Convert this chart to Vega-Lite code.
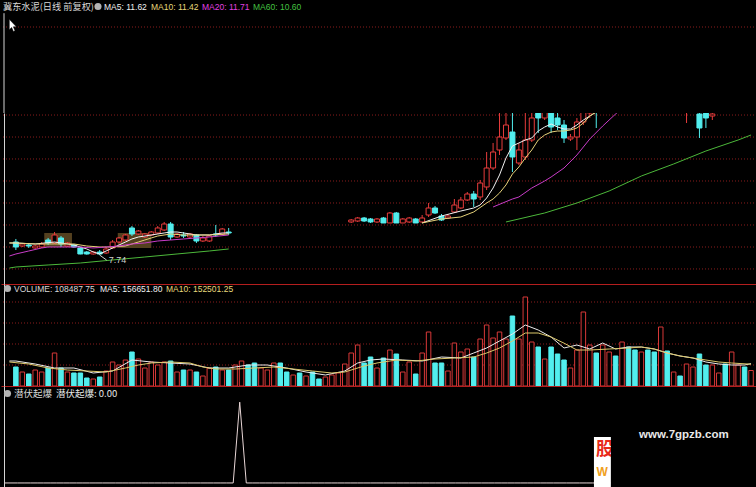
{
  "$schema": "https://vega.github.io/schema/vega-lite/v6.json",
  "background": "#000000",
  "padding": 0,
  "bounds": "flush",
  "spacing": 0,
  "config": {"view": {"stroke": null}, "text": {"font": "Liberation Sans"}},
  "resolve": {"scale": {"x": "independent", "y": "independent", "color": "independent"}},
  "datasets": {
    "bars": [
      {"i": -1, "q": 0},
      {"i": 0, "dir": "d", "vol": 133000, "o": 8.052, "h": 8.124, "l": 7.862, "c": 7.933, "q": 0},
      {"i": 1, "dir": "u", "vol": 98000, "o": 7.957, "h": 8.029, "l": 7.933, "c": 8.005, "q": 0},
      {"i": 2, "dir": "d", "vol": 84000, "o": 7.981, "h": 8.029, "l": 7.91, "c": 7.957, "q": 0},
      {"i": 3, "dir": "u", "vol": 112000, "o": 7.91, "h": 7.981, "l": 7.886, "c": 7.957, "q": 0},
      {"i": 4, "dir": "u", "vol": 98000, "o": 7.933, "h": 8.052, "l": 7.91, "c": 8.005, "q": 0},
      {"i": 5, "dir": "d", "vol": 126000, "o": 8.1, "h": 8.148, "l": 7.981, "c": 8.029, "q": 0},
      {"i": 6, "dir": "u", "vol": 231000, "o": 8.029, "h": 8.29, "l": 8.005, "c": 8.219, "q": 0},
      {"i": 7, "dir": "d", "vol": 126000, "o": 8.148, "h": 8.195, "l": 7.933, "c": 8.005, "q": 0},
      {"i": 8, "dir": "u", "vol": 98000, "o": 7.957, "h": 8.052, "l": 7.933, "c": 8.029, "q": 0},
      {"i": 9, "dir": "d", "vol": 91000, "o": 7.981, "h": 8.005, "l": 7.91, "c": 7.933, "q": 0},
      {"i": 10, "dir": "d", "vol": 91000, "o": 7.91, "h": 7.933, "l": 7.76, "c": 7.767, "q": 0},
      {"i": 11, "dir": "d", "vol": 56000, "o": 7.814, "h": 7.838, "l": 7.75, "c": 7.767, "q": 0},
      {"i": 12, "dir": "u", "vol": 49000, "o": 7.767, "h": 7.838, "l": 7.75, "c": 7.814, "q": 0},
      {"i": 13, "dir": "d", "vol": 63000, "o": 7.814, "h": 7.862, "l": 7.74, "c": 7.767, "q": 0},
      {"i": 14, "dir": "u", "vol": 105000, "o": 7.79, "h": 7.933, "l": 7.767, "c": 7.886, "q": 0},
      {"i": 15, "dir": "u", "vol": 168000, "o": 7.91, "h": 8.1, "l": 7.886, "c": 8.052, "q": 0},
      {"i": 16, "dir": "u", "vol": 147000, "o": 8.052, "h": 8.171, "l": 8.029, "c": 8.148, "q": 0},
      {"i": 17, "dir": "u", "vol": 182000, "o": 8.1, "h": 8.243, "l": 8.076, "c": 8.219, "q": 0},
      {"i": 18, "dir": "d", "vol": 238000, "o": 8.386, "h": 8.433, "l": 8.195, "c": 8.243, "q": 0},
      {"i": 19, "dir": "u", "vol": 189000, "o": 8.243, "h": 8.338, "l": 8.219, "c": 8.314, "q": 0},
      {"i": 20, "dir": "u", "vol": 126000, "o": 8.171, "h": 8.267, "l": 8.148, "c": 8.243, "q": 0},
      {"i": 21, "dir": "u", "vol": 168000, "o": 8.219, "h": 8.314, "l": 8.195, "c": 8.29, "q": 0},
      {"i": 22, "dir": "u", "vol": 147000, "o": 8.267, "h": 8.433, "l": 8.243, "c": 8.386, "q": 0},
      {"i": 23, "dir": "u", "vol": 168000, "o": 8.338, "h": 8.529, "l": 8.314, "c": 8.481, "q": 0},
      {"i": 24, "dir": "d", "vol": 175000, "o": 8.481, "h": 8.529, "l": 8.1, "c": 8.171, "q": 0},
      {"i": 25, "dir": "u", "vol": 98000, "o": 8.171, "h": 8.267, "l": 8.148, "c": 8.243, "q": 0},
      {"i": 26, "dir": "d", "vol": 112000, "o": 8.219, "h": 8.29, "l": 8.148, "c": 8.195, "q": 0},
      {"i": 27, "dir": "u", "vol": 112000, "o": 8.171, "h": 8.267, "l": 8.148, "c": 8.243, "q": 0},
      {"i": 28, "dir": "d", "vol": 98000, "o": 8.219, "h": 8.243, "l": 8.029, "c": 8.076, "q": 0},
      {"i": 29, "dir": "u", "vol": 70000, "o": 8.076, "h": 8.195, "l": 8.052, "c": 8.148, "q": 0},
      {"i": 30, "dir": "u", "vol": 126000, "o": 8.076, "h": 8.219, "l": 8.052, "c": 8.195, "q": 0},
      {"i": 31, "dir": "d", "vol": 133000, "o": 8.243, "h": 8.457, "l": 8.171, "c": 8.219, "q": 0},
      {"i": 32, "dir": "u", "vol": 112000, "o": 8.243, "h": 8.386, "l": 8.219, "c": 8.362, "q": 0},
      {"i": 33, "dir": "d", "vol": 112000, "o": 8.29, "h": 8.386, "l": 8.219, "c": 8.267, "q": 0},
      {"i": 34, "dir": "u", "vol": 147000, "q": 0},
      {"i": 35, "dir": "u", "vol": 175000, "q": 1},
      {"i": 36, "dir": "d", "vol": 147000, "q": 0},
      {"i": 37, "dir": "d", "vol": 161000, "q": 0},
      {"i": 38, "dir": "u", "vol": 126000, "q": 0},
      {"i": 39, "dir": "u", "vol": 112000, "q": 0},
      {"i": 40, "dir": "u", "vol": 161000, "q": 0},
      {"i": 41, "dir": "d", "vol": 161000, "q": 0},
      {"i": 42, "dir": "d", "vol": 98000, "q": 0},
      {"i": 43, "dir": "u", "vol": 77000, "q": 0},
      {"i": 44, "dir": "d", "vol": 91000, "q": 0},
      {"i": 45, "dir": "u", "vol": 70000, "q": 0},
      {"i": 46, "dir": "d", "vol": 98000, "q": 0},
      {"i": 47, "dir": "d", "vol": 49000, "q": 0},
      {"i": 48, "dir": "u", "vol": 63000, "q": 0},
      {"i": 49, "dir": "u", "vol": 77000, "q": 0},
      {"i": 50, "dir": "u", "vol": 91000, "q": 0},
      {"i": 51, "dir": "u", "vol": 154000, "q": 0},
      {"i": 52, "dir": "u", "vol": 231000, "o": 8.529, "h": 8.6, "l": 8.505, "c": 8.576, "q": 0},
      {"i": 53, "dir": "u", "vol": 287000, "o": 8.552, "h": 8.648, "l": 8.529, "c": 8.624, "q": 0},
      {"i": 54, "dir": "d", "vol": 161000, "o": 8.624, "h": 8.648, "l": 8.529, "c": 8.552, "q": 0},
      {"i": 55, "dir": "d", "vol": 203000, "o": 8.6, "h": 8.624, "l": 8.505, "c": 8.529, "q": 0},
      {"i": 56, "dir": "u", "vol": 126000, "o": 8.529, "h": 8.624, "l": 8.505, "c": 8.6, "q": 0},
      {"i": 57, "dir": "d", "vol": 196000, "o": 8.624, "h": 8.648, "l": 8.505, "c": 8.505, "q": 0},
      {"i": 58, "dir": "u", "vol": 252000, "o": 8.505, "h": 8.767, "l": 8.505, "c": 8.743, "q": 0},
      {"i": 59, "dir": "d", "vol": 224000, "o": 8.743, "h": 8.767, "l": 8.505, "c": 8.505, "q": 0},
      {"i": 60, "dir": "u", "vol": 98000, "o": 8.505, "h": 8.624, "l": 8.505, "c": 8.6, "q": 0},
      {"i": 61, "dir": "u", "vol": 168000, "o": 8.529, "h": 8.648, "l": 8.505, "c": 8.624, "q": 0},
      {"i": 62, "dir": "d", "vol": 84000, "o": 8.6, "h": 8.624, "l": 8.505, "c": 8.505, "q": 0},
      {"i": 63, "dir": "u", "vol": 231000, "o": 8.529, "h": 8.695, "l": 8.505, "c": 8.624, "q": 0},
      {"i": 64, "dir": "u", "vol": 378000, "o": 8.695, "h": 8.981, "l": 8.648, "c": 8.862, "q": 0},
      {"i": 65, "dir": "d", "vol": 161000, "o": 8.862, "h": 8.91, "l": 8.719, "c": 8.743, "q": 0},
      {"i": 66, "dir": "d", "vol": 161000, "o": 8.671, "h": 8.719, "l": 8.552, "c": 8.576, "q": 0},
      {"i": 67, "dir": "u", "vol": 105000, "o": 8.624, "h": 8.719, "l": 8.6, "c": 8.671, "q": 0},
      {"i": 68, "dir": "u", "vol": 301000, "o": 8.767, "h": 9.076, "l": 8.743, "c": 8.933, "q": 0},
      {"i": 69, "dir": "u", "vol": 238000, "o": 8.862, "h": 9.124, "l": 8.838, "c": 9.052, "q": 0},
      {"i": 70, "dir": "u", "vol": 259000, "o": 9.052, "h": 9.243, "l": 9.029, "c": 9.195, "q": 0},
      {"i": 71, "dir": "d", "vol": 203000, "o": 9.195, "h": 9.267, "l": 8.886, "c": 9.076, "q": 0},
      {"i": 72, "dir": "u", "vol": 329000, "o": 9.124, "h": 9.529, "l": 9.052, "c": 9.457, "q": 0},
      {"i": 73, "dir": "u", "vol": 427000, "o": 9.362, "h": 10.195, "l": 9.29, "c": 9.814, "q": 0},
      {"i": 74, "dir": "u", "vol": 336000, "o": 9.814, "h": 10.41, "l": 9.767, "c": 10.195, "q": 0},
      {"i": 75, "dir": "u", "vol": 378000, "o": 10.243, "h": 11.243, "l": 10.124, "c": 10.552, "q": 0},
      {"i": 76, "dir": "u", "vol": 329000, "o": 10.529, "h": 11.243, "l": 10.481, "c": 10.838, "q": 0},
      {"i": 77, "dir": "d", "vol": 490000, "o": 10.671, "h": 11.243, "l": 9.719, "c": 10.076, "q": 0},
      {"i": 78, "dir": "u", "vol": 329000, "o": 9.933, "h": 10.41, "l": 9.886, "c": 10.243, "q": 0},
      {"i": 79, "dir": "u", "vol": 623000, "o": 10.076, "h": 11.243, "l": 10.005, "c": 10.481, "q": 0},
      {"i": 80, "dir": "u", "vol": 308000, "o": 10.481, "h": 11.243, "l": 10.433, "c": 11.005, "q": 0},
      {"i": 81, "dir": "d", "vol": 273000, "o": 11.195, "h": 11.314, "l": 10.648, "c": 11.005, "q": 0},
      {"i": 82, "dir": "u", "vol": 189000, "o": 11.005, "h": 11.314, "l": 10.957, "c": 11.195, "q": 0},
      {"i": 83, "dir": "d", "vol": 273000, "o": 11.195, "h": 11.314, "l": 10.648, "c": 10.79, "q": 0},
      {"i": 84, "dir": "d", "vol": 224000, "o": 11.005, "h": 11.195, "l": 10.719, "c": 10.838, "q": 0},
      {"i": 85, "dir": "d", "vol": 182000, "o": 10.838, "h": 10.957, "l": 10.41, "c": 10.529, "q": 0},
      {"i": 86, "dir": "u", "vol": 126000, "o": 10.505, "h": 10.624, "l": 10.457, "c": 10.552, "q": 0},
      {"i": 87, "dir": "u", "vol": 252000, "o": 10.552, "h": 11.005, "l": 10.243, "c": 10.91, "q": 0},
      {"i": 88, "dir": "u", "vol": 518000, "o": 10.91, "h": 11.314, "l": 10.838, "c": 11.195, "q": 0},
      {"i": 89, "dir": "u", "vol": 287000, "o": 11.124, "h": 11.433, "l": 11.005, "c": 11.314, "q": 0},
      {"i": 90, "dir": "d", "vol": 231000, "o": 11.314, "h": 11.433, "l": 10.767, "c": 11.148, "q": 0},
      {"i": 91, "dir": "u", "vol": 287000, "o": 11.195, "h": 11.552, "l": 11.148, "c": 11.433, "q": 0},
      {"i": 92, "dir": "u", "vol": 238000, "q": 0},
      {"i": 93, "dir": "d", "vol": 210000, "q": 0},
      {"i": 94, "dir": "u", "vol": 308000, "q": 0},
      {"i": 95, "dir": "d", "vol": 273000, "q": 0},
      {"i": 96, "dir": "d", "vol": 252000, "q": 0},
      {"i": 97, "dir": "u", "vol": 238000, "q": 0},
      {"i": 98, "dir": "d", "vol": 252000, "q": 0},
      {"i": 99, "dir": "d", "vol": 238000, "q": 0},
      {"i": 100, "dir": "u", "vol": 413000, "q": 0},
      {"i": 101, "dir": "d", "vol": 245000, "q": 0},
      {"i": 102, "dir": "u", "vol": 98000, "q": 0},
      {"i": 103, "dir": "d", "vol": 70000, "q": 0},
      {"i": 104, "dir": "u", "vol": 154000, "o": 11.314, "h": 11.552, "l": 10.886, "c": 11.433, "q": 0},
      {"i": 105, "dir": "u", "vol": 133000, "q": 0},
      {"i": 106, "dir": "d", "vol": 224000, "o": 11.1, "h": 11.195, "l": 10.529, "c": 10.767, "q": 0},
      {"i": 107, "dir": "d", "vol": 147000, "o": 11.195, "h": 11.243, "l": 10.767, "c": 11.005, "q": 0},
      {"i": 108, "dir": "u", "vol": 147000, "o": 11.052, "h": 11.195, "l": 10.957, "c": 11.1, "q": 0},
      {"i": 109, "dir": "u", "vol": 91000, "q": 0},
      {"i": 110, "dir": "d", "vol": 154000, "q": 0},
      {"i": 111, "dir": "u", "vol": 238000, "q": 0},
      {"i": 112, "dir": "u", "vol": 147000, "q": 0},
      {"i": 113, "dir": "d", "vol": 133000, "q": 0},
      {"i": 114, "dir": "u", "vol": 108487.75, "q": 0}
    ],
    "ma": [
      {"s": "MA5", "g": "a", "i": -1, "p": 8.029}, {"s": "MA5", "g": "a", "i": 0, "p": 8.029}, {"s": "MA5", "g": "a", "i": 3, "p": 8.005},
      {"s": "MA5", "g": "a", "i": 6, "p": 8.052}, {"s": "MA5", "g": "a", "i": 9, "p": 7.981}, {"s": "MA5", "g": "a", "i": 10, "p": 7.933},
      {"s": "MA5", "g": "a", "i": 11, "p": 7.886}, {"s": "MA5", "g": "a", "i": 12, "p": 7.814}, {"s": "MA5", "g": "a", "i": 13, "p": 7.767},
      {"s": "MA5", "g": "a", "i": 14, "p": 7.838}, {"s": "MA5", "g": "a", "i": 15, "p": 7.91}, {"s": "MA5", "g": "a", "i": 16, "p": 7.981},
      {"s": "MA5", "g": "a", "i": 17, "p": 8.052}, {"s": "MA5", "g": "a", "i": 18, "p": 8.124}, {"s": "MA5", "g": "a", "i": 19, "p": 8.171},
      {"s": "MA5", "g": "a", "i": 20, "p": 8.195}, {"s": "MA5", "g": "a", "i": 21, "p": 8.219}, {"s": "MA5", "g": "a", "i": 22, "p": 8.243},
      {"s": "MA5", "g": "a", "i": 23, "p": 8.267}, {"s": "MA5", "g": "a", "i": 24, "p": 8.29}, {"s": "MA5", "g": "a", "i": 25, "p": 8.29},
      {"s": "MA5", "g": "a", "i": 26, "p": 8.267}, {"s": "MA5", "g": "a", "i": 27, "p": 8.243}, {"s": "MA5", "g": "a", "i": 28, "p": 8.219},
      {"s": "MA5", "g": "a", "i": 30, "p": 8.219}, {"s": "MA5", "g": "a", "i": 31, "p": 8.243}, {"s": "MA5", "g": "a", "i": 32, "p": 8.267},
      {"s": "MA5", "g": "a", "i": 33, "p": 8.267},
      {"s": "MA5", "g": "b", "i": 63, "p": 8.505}, {"s": "MA5", "g": "b", "i": 66, "p": 8.671}, {"s": "MA5", "g": "b", "i": 69, "p": 8.79},
      {"s": "MA5", "g": "b", "i": 71, "p": 8.862}, {"s": "MA5", "g": "b", "i": 72, "p": 8.933}, {"s": "MA5", "g": "b", "i": 73, "p": 9.1},
      {"s": "MA5", "g": "b", "i": 74, "p": 9.338}, {"s": "MA5", "g": "b", "i": 75, "p": 9.648}, {"s": "MA5", "g": "b", "i": 76, "p": 10.052},
      {"s": "MA5", "g": "b", "i": 77, "p": 10.338}, {"s": "MA5", "g": "b", "i": 78, "p": 10.41}, {"s": "MA5", "g": "b", "i": 79, "p": 10.481},
      {"s": "MA5", "g": "b", "i": 80, "p": 10.529}, {"s": "MA5", "g": "b", "i": 81, "p": 10.695}, {"s": "MA5", "g": "b", "i": 82, "p": 10.79},
      {"s": "MA5", "g": "b", "i": 83, "p": 10.862}, {"s": "MA5", "g": "b", "i": 84, "p": 10.79}, {"s": "MA5", "g": "b", "i": 85, "p": 10.743},
      {"s": "MA5", "g": "b", "i": 86, "p": 10.743}, {"s": "MA5", "g": "b", "i": 87, "p": 10.838}, {"s": "MA5", "g": "b", "i": 88, "p": 10.957},
      {"s": "MA5", "g": "b", "i": 89, "p": 11.052}, {"s": "MA5", "g": "b", "i": 90, "p": 11.148}, {"s": "MA5", "g": "b", "i": 96, "p": 11.4},
      {"s": "MA5", "g": "b", "i": 102, "p": 11.55}, {"s": "MA5", "g": "b", "i": 108, "p": 11.68}, {"s": "MA5", "g": "b", "i": 114, "p": 11.62},
      {"s": "MA10", "g": "a", "i": -1, "p": 8.029}, {"s": "MA10", "g": "a", "i": 0, "p": 8.029}, {"s": "MA10", "g": "a", "i": 3, "p": 8.005},
      {"s": "MA10", "g": "a", "i": 6, "p": 8.005}, {"s": "MA10", "g": "a", "i": 9, "p": 8.005}, {"s": "MA10", "g": "a", "i": 11, "p": 7.957},
      {"s": "MA10", "g": "a", "i": 13, "p": 7.933}, {"s": "MA10", "g": "a", "i": 15, "p": 7.933}, {"s": "MA10", "g": "a", "i": 17, "p": 7.957},
      {"s": "MA10", "g": "a", "i": 18, "p": 8.005}, {"s": "MA10", "g": "a", "i": 19, "p": 8.052}, {"s": "MA10", "g": "a", "i": 20, "p": 8.1},
      {"s": "MA10", "g": "a", "i": 21, "p": 8.148}, {"s": "MA10", "g": "a", "i": 22, "p": 8.195}, {"s": "MA10", "g": "a", "i": 24, "p": 8.243},
      {"s": "MA10", "g": "a", "i": 26, "p": 8.219}, {"s": "MA10", "g": "a", "i": 28, "p": 8.219}, {"s": "MA10", "g": "a", "i": 30, "p": 8.219},
      {"s": "MA10", "g": "a", "i": 33, "p": 8.243},
      {"s": "MA10", "g": "b", "i": 63, "p": 8.505}, {"s": "MA10", "g": "b", "i": 66, "p": 8.6}, {"s": "MA10", "g": "b", "i": 69, "p": 8.648},
      {"s": "MA10", "g": "b", "i": 71, "p": 8.767}, {"s": "MA10", "g": "b", "i": 73, "p": 8.981}, {"s": "MA10", "g": "b", "i": 74, "p": 9.076},
      {"s": "MA10", "g": "b", "i": 75, "p": 9.219}, {"s": "MA10", "g": "b", "i": 76, "p": 9.41}, {"s": "MA10", "g": "b", "i": 77, "p": 9.671},
      {"s": "MA10", "g": "b", "i": 78, "p": 9.838}, {"s": "MA10", "g": "b", "i": 79, "p": 10.052}, {"s": "MA10", "g": "b", "i": 80, "p": 10.243},
      {"s": "MA10", "g": "b", "i": 81, "p": 10.481}, {"s": "MA10", "g": "b", "i": 82, "p": 10.6}, {"s": "MA10", "g": "b", "i": 83, "p": 10.671},
      {"s": "MA10", "g": "b", "i": 84, "p": 10.695}, {"s": "MA10", "g": "b", "i": 85, "p": 10.695}, {"s": "MA10", "g": "b", "i": 86, "p": 10.719},
      {"s": "MA10", "g": "b", "i": 87, "p": 10.767}, {"s": "MA10", "g": "b", "i": 88, "p": 10.886}, {"s": "MA10", "g": "b", "i": 89, "p": 11.052},
      {"s": "MA10", "g": "b", "i": 90, "p": 11.148}, {"s": "MA10", "g": "b", "i": 96, "p": 11.35}, {"s": "MA10", "g": "b", "i": 102, "p": 11.45},
      {"s": "MA10", "g": "b", "i": 108, "p": 11.48}, {"s": "MA10", "g": "b", "i": 114, "p": 11.42},
      {"s": "MA20", "g": "a", "i": -1, "p": 7.719}, {"s": "MA20", "g": "a", "i": 0, "p": 7.767}, {"s": "MA20", "g": "a", "i": 2, "p": 7.838},
      {"s": "MA20", "g": "a", "i": 4, "p": 7.91}, {"s": "MA20", "g": "a", "i": 5, "p": 7.933}, {"s": "MA20", "g": "a", "i": 8, "p": 7.933},
      {"s": "MA20", "g": "a", "i": 10, "p": 7.933}, {"s": "MA20", "g": "a", "i": 12, "p": 7.91}, {"s": "MA20", "g": "a", "i": 14, "p": 7.933},
      {"s": "MA20", "g": "a", "i": 16, "p": 7.957}, {"s": "MA20", "g": "a", "i": 18, "p": 8.005}, {"s": "MA20", "g": "a", "i": 20, "p": 8.029},
      {"s": "MA20", "g": "a", "i": 22, "p": 8.076}, {"s": "MA20", "g": "a", "i": 24, "p": 8.1}, {"s": "MA20", "g": "a", "i": 26, "p": 8.124},
      {"s": "MA20", "g": "a", "i": 28, "p": 8.148}, {"s": "MA20", "g": "a", "i": 30, "p": 8.171}, {"s": "MA20", "g": "a", "i": 33, "p": 8.219},
      {"s": "MA20", "g": "b", "i": 74, "p": 8.886}, {"s": "MA20", "g": "b", "i": 77, "p": 9.076}, {"s": "MA20", "g": "b", "i": 78, "p": 9.124},
      {"s": "MA20", "g": "b", "i": 80, "p": 9.338}, {"s": "MA20", "g": "b", "i": 82, "p": 9.505}, {"s": "MA20", "g": "b", "i": 83, "p": 9.6},
      {"s": "MA20", "g": "b", "i": 85, "p": 9.814}, {"s": "MA20", "g": "b", "i": 87, "p": 10.124}, {"s": "MA20", "g": "b", "i": 89, "p": 10.505},
      {"s": "MA20", "g": "b", "i": 91, "p": 10.814}, {"s": "MA20", "g": "b", "i": 93, "p": 11.1}, {"s": "MA20", "g": "b", "i": 94, "p": 11.243},
      {"s": "MA20", "g": "b", "i": 100, "p": 11.5}, {"s": "MA20", "g": "b", "i": 107, "p": 11.65}, {"s": "MA20", "g": "b", "i": 114, "p": 11.71},
      {"s": "MA60", "g": "a", "i": -1, "p": 7.433}, {"s": "MA60", "g": "a", "i": 0, "p": 7.457}, {"s": "MA60", "g": "a", "i": 5, "p": 7.505},
      {"s": "MA60", "g": "a", "i": 10, "p": 7.552}, {"s": "MA60", "g": "a", "i": 15, "p": 7.624}, {"s": "MA60", "g": "a", "i": 20, "p": 7.695},
      {"s": "MA60", "g": "a", "i": 25, "p": 7.767}, {"s": "MA60", "g": "a", "i": 30, "p": 7.838}, {"s": "MA60", "g": "a", "i": 33, "p": 7.886},
      {"s": "MA60", "g": "b", "i": 76, "p": 8.529}, {"s": "MA60", "g": "b", "i": 82, "p": 8.743}, {"s": "MA60", "g": "b", "i": 87, "p": 8.981},
      {"s": "MA60", "g": "b", "i": 92, "p": 9.267}, {"s": "MA60", "g": "b", "i": 97, "p": 9.624}, {"s": "MA60", "g": "b", "i": 102, "p": 9.91},
      {"s": "MA60", "g": "b", "i": 107, "p": 10.219}, {"s": "MA60", "g": "b", "i": 112, "p": 10.481}, {"s": "MA60", "g": "b", "i": 114, "p": 10.6}
    ],
    "vma": [
      {"s": "MA5", "i": -1, "v": 175000}, {"s": "MA5", "i": 0, "v": 175000}, {"s": "MA5", "i": 3, "v": 154000}, {"s": "MA5", "i": 6, "v": 126000},
      {"s": "MA5", "i": 9, "v": 126000}, {"s": "MA5", "i": 12, "v": 91000}, {"s": "MA5", "i": 15, "v": 105000}, {"s": "MA5", "i": 18, "v": 182000},
      {"s": "MA5", "i": 21, "v": 168000}, {"s": "MA5", "i": 24, "v": 161000}, {"s": "MA5", "i": 27, "v": 154000}, {"s": "MA5", "i": 30, "v": 126000},
      {"s": "MA5", "i": 33, "v": 126000}, {"s": "MA5", "i": 36, "v": 147000}, {"s": "MA5", "i": 39, "v": 147000}, {"s": "MA5", "i": 42, "v": 126000},
      {"s": "MA5", "i": 45, "v": 98000}, {"s": "MA5", "i": 48, "v": 77000}, {"s": "MA5", "i": 51, "v": 105000}, {"s": "MA5", "i": 53, "v": 161000},
      {"s": "MA5", "i": 55, "v": 182000}, {"s": "MA5", "i": 57, "v": 189000}, {"s": "MA5", "i": 60, "v": 182000}, {"s": "MA5", "i": 63, "v": 175000},
      {"s": "MA5", "i": 66, "v": 203000}, {"s": "MA5", "i": 69, "v": 196000}, {"s": "MA5", "i": 71, "v": 231000}, {"s": "MA5", "i": 73, "v": 266000},
      {"s": "MA5", "i": 75, "v": 315000}, {"s": "MA5", "i": 77, "v": 364000}, {"s": "MA5", "i": 79, "v": 427000}, {"s": "MA5", "i": 81, "v": 392000},
      {"s": "MA5", "i": 83, "v": 343000}, {"s": "MA5", "i": 85, "v": 266000}, {"s": "MA5", "i": 87, "v": 287000}, {"s": "MA5", "i": 89, "v": 259000},
      {"s": "MA5", "i": 91, "v": 301000}, {"s": "MA5", "i": 93, "v": 259000}, {"s": "MA5", "i": 95, "v": 273000}, {"s": "MA5", "i": 97, "v": 273000},
      {"s": "MA5", "i": 99, "v": 259000}, {"s": "MA5", "i": 101, "v": 231000}, {"s": "MA5", "i": 103, "v": 210000}, {"s": "MA5", "i": 105, "v": 196000},
      {"s": "MA5", "i": 107, "v": 168000}, {"s": "MA5", "i": 109, "v": 154000}, {"s": "MA5", "i": 111, "v": 147000}, {"s": "MA5", "i": 113, "v": 147000},
      {"s": "MA5", "i": 114, "v": 156651.8},
      {"s": "MA10", "i": -1, "v": 168000}, {"s": "MA10", "i": 2, "v": 154000}, {"s": "MA10", "i": 5, "v": 126000}, {"s": "MA10", "i": 8, "v": 112000},
      {"s": "MA10", "i": 11, "v": 105000}, {"s": "MA10", "i": 14, "v": 98000}, {"s": "MA10", "i": 17, "v": 126000}, {"s": "MA10", "i": 19, "v": 147000},
      {"s": "MA10", "i": 21, "v": 161000}, {"s": "MA10", "i": 24, "v": 168000}, {"s": "MA10", "i": 27, "v": 161000}, {"s": "MA10", "i": 29, "v": 133000},
      {"s": "MA10", "i": 31, "v": 119000}, {"s": "MA10", "i": 34, "v": 119000}, {"s": "MA10", "i": 37, "v": 126000}, {"s": "MA10", "i": 40, "v": 133000},
      {"s": "MA10", "i": 43, "v": 119000}, {"s": "MA10", "i": 46, "v": 105000}, {"s": "MA10", "i": 49, "v": 91000}, {"s": "MA10", "i": 51, "v": 98000},
      {"s": "MA10", "i": 54, "v": 140000}, {"s": "MA10", "i": 56, "v": 161000}, {"s": "MA10", "i": 59, "v": 182000}, {"s": "MA10", "i": 62, "v": 175000},
      {"s": "MA10", "i": 65, "v": 189000}, {"s": "MA10", "i": 68, "v": 196000}, {"s": "MA10", "i": 71, "v": 203000}, {"s": "MA10", "i": 73, "v": 231000},
      {"s": "MA10", "i": 75, "v": 266000}, {"s": "MA10", "i": 77, "v": 315000}, {"s": "MA10", "i": 79, "v": 371000}, {"s": "MA10", "i": 81, "v": 371000},
      {"s": "MA10", "i": 83, "v": 343000}, {"s": "MA10", "i": 85, "v": 300000}, {"s": "MA10", "i": 87, "v": 252000}, {"s": "MA10", "i": 89, "v": 252000},
      {"s": "MA10", "i": 92, "v": 259000}, {"s": "MA10", "i": 95, "v": 266000}, {"s": "MA10", "i": 97, "v": 273000}, {"s": "MA10", "i": 99, "v": 259000},
      {"s": "MA10", "i": 101, "v": 231000}, {"s": "MA10", "i": 103, "v": 210000}, {"s": "MA10", "i": 105, "v": 196000}, {"s": "MA10", "i": 107, "v": 182000},
      {"s": "MA10", "i": 109, "v": 168000}, {"s": "MA10", "i": 111, "v": 161000}, {"s": "MA10", "i": 114, "v": 152501.25}
    ],
    "pgrid": [{"p": 11.076}, {"p": 10.552}, {"p": 10.029}, {"p": 9.505}, {"p": 8.981}, {"p": 8.457}, {"p": 7.933}, {"p": 7.41}],
    "vgrid": [{"v": 147000}, {"v": 294000}, {"v": 441000}, {"v": 588000}],
    "zones": [{"i1": 4.4, "i2": 8.7, "lo": 7.933, "hi": 8.267}, {"i1": 15.8, "i2": 21.0, "lo": 7.91, "hi": 8.267}],
    "lows": [{"i": 13, "p": 7.74, "t": "7.74"}]
  },
  "vconcat": [
    {
      "width": 756,
      "height": 113,
      "layer": [
        {
          "data": {"values": [{"p": 13.171}]},
          "mark": {"type": "rule", "stroke": "#8a1c1c", "strokeDash": [1, 2]},
          "encoding": {"y": {"field": "p", "type": "quantitative", "title": null, "scale": {"domain": [11.124, 13.814], "nice": false, "zero": false}, "axis": null}}
        },
        {
          "data": {"values": [{}]},
          "mark": {"type": "rule", "stroke": "#d4d4d4", "strokeWidth": 1},
          "encoding": {
            "x": {"datum": -1.07, "type": "quantitative", "scale": {"domain": [-1.53, 114.15], "nice": false, "zero": false}, "axis": null},
            "y": {"datum": 13.5, "type": "quantitative"},
            "y2": {"datum": 11.124}
          }
        },
        {"data": {"values": [{}]}, "mark": {"type": "text", "text": "冀东水泥(日线 前复权)", "x": 2, "y": 7, "align": "left", "baseline": "middle", "font": "Noto Sans CJK SC", "fontSize": 9.2, "fill": "#d8d8d8"}},
        {"data": {"values": [{}]}, "mark": {"type": "point", "shape": "circle", "filled": true, "fill": "#b4b4b4", "opacity": 1, "size": 50, "x": 97, "y": 6.5}},
        {"data": {"values": [{}]}, "mark": {"type": "text", "text": "MA5: 11.62", "x": 103, "y": 7, "align": "left", "baseline": "middle", "fontSize": 8.5, "fill": "#f0f0f0"}},
        {"data": {"values": [{}]}, "mark": {"type": "text", "text": "MA10: 11.42", "x": 150, "y": 7, "align": "left", "baseline": "middle", "fontSize": 8.5, "fill": "#e6d87a"}},
        {"data": {"values": [{}]}, "mark": {"type": "text", "text": "MA20: 11.71", "x": 201, "y": 7, "align": "left", "baseline": "middle", "fontSize": 8.5, "fill": "#e040e0"}},
        {"data": {"values": [{}]}, "mark": {"type": "text", "text": "MA60: 10.60", "x": 252, "y": 7, "align": "left", "baseline": "middle", "fontSize": 8.5, "fill": "#44c040"}},
        {"data": {"values": [{}]}, "mark": {"type": "point", "shape": "M-0.55,-1L-0.55,0.55L-0.2,0.22L0.06,0.82L0.3,0.72L0.05,0.12L0.5,0.12Z", "filled": true, "fill": "#ffffff", "stroke": "#000000", "strokeWidth": 0.5, "opacity": 1, "size": 180, "x": 12, "y": 26}}
      ]
    },
    {
      "width": 756,
      "height": 171,
      "layer": [
        {
          "data": {"name": "pgrid"},
          "mark": {"type": "rule", "stroke": "#8a1c1c", "strokeDash": [1, 2]},
          "encoding": {"y": {"field": "p", "type": "quantitative", "title": null, "scale": {"domain": [7.052, 11.124], "nice": false, "zero": false},
            "axis": {"orient": "left", "domain": true, "domainColor": "#d4d4d4", "offset": -3, "labels": false, "ticks": false, "grid": false, "title": null}}}
        },
        {
          "data": {"name": "zones"},
          "mark": {"type": "rect", "fill": "#54401f"},
          "encoding": {
            "x": {"field": "i1", "type": "quantitative", "title": null, "scale": {"domain": [-1.53, 114.15], "nice": false, "zero": false},
              "axis": {"orient": "bottom", "domain": true, "domainColor": "#b41e1e", "labels": false, "ticks": false, "grid": false, "title": null}},
            "x2": {"field": "i2"},
            "y": {"field": "lo", "type": "quantitative", "title": null},
            "y2": {"field": "hi"}
          }
        },
        {
          "data": {"name": "bars"},
          "transform": [{"filter": "isValid(datum.h)"}],
          "mark": {"type": "rule", "strokeWidth": 1, "clip": true},
          "encoding": {
            "x": {"field": "i", "type": "quantitative", "title": null},
            "y": {"field": "l", "type": "quantitative", "title": null},
            "y2": {"field": "h"},
            "color": {"condition": {"test": "datum.dir === 'u'", "value": "#e83c3c"}, "value": "#52eeee"}
          }
        },
        {
          "data": {"name": "bars"},
          "transform": [{"filter": "isValid(datum.o)"}],
          "mark": {"type": "bar", "orient": "vertical", "size": 5, "strokeWidth": 1, "clip": true},
          "encoding": {
            "x": {"field": "i", "type": "quantitative", "title": null},
            "y": {"field": "o", "type": "quantitative", "title": null},
            "y2": {"field": "c"},
            "fill": {"condition": {"test": "datum.dir === 'u'", "value": "#000000"}, "value": "#52eeee"},
            "stroke": {"condition": {"test": "datum.dir === 'u'", "value": "#e83c3c"}, "value": "#52eeee"}
          }
        },
        {
          "data": {"name": "ma"},
          "mark": {"type": "line", "strokeWidth": 1, "clip": true},
          "encoding": {
            "x": {"field": "i", "type": "quantitative", "title": null},
            "y": {"field": "p", "type": "quantitative", "title": null},
            "color": {"field": "s", "type": "nominal", "legend": null,
              "scale": {"domain": ["MA5", "MA10", "MA20", "MA60"], "range": ["#f2f2f2", "#e6d27a", "#c83cc8", "#4cb83a"]}},
            "detail": {"field": "g", "type": "nominal"}
          }
        },
        {
          "data": {"name": "lows"},
          "mark": {"type": "rule", "stroke": "#d0d0d0", "strokeWidth": 1, "x2Offset": 7, "y2Offset": 5},
          "encoding": {
            "x": {"field": "i", "type": "quantitative", "title": null},
            "y": {"field": "p", "type": "quantitative", "title": null},
            "x2": {"field": "i"},
            "y2": {"field": "p"}
          }
        },
        {
          "data": {"name": "lows"},
          "mark": {"type": "text", "align": "left", "baseline": "middle", "dx": 9, "dy": 5, "fontSize": 9, "fill": "#d0d0d0"},
          "encoding": {
            "x": {"field": "i", "type": "quantitative", "title": null},
            "y": {"field": "p", "type": "quantitative", "title": null},
            "text": {"field": "t"}
          }
        }
      ]
    },
    {
      "width": 756,
      "height": 102,
      "layer": [
        {
          "data": {"name": "vgrid"},
          "mark": {"type": "rule", "stroke": "#8a1c1c", "strokeDash": [1, 2]},
          "encoding": {"y": {"field": "v", "type": "quantitative", "title": null, "scale": {"domain": [0, 714000], "nice": false, "zero": false},
            "axis": {"orient": "left", "domain": true, "domainColor": "#d4d4d4", "offset": -3, "labels": false, "ticks": false, "grid": false, "title": null}}}
        },
        {
          "data": {"name": "bars"},
          "transform": [{"filter": "isValid(datum.vol)"}],
          "mark": {"type": "bar", "orient": "vertical", "size": 4.5, "strokeWidth": 1, "clip": true},
          "encoding": {
            "x": {"field": "i", "type": "quantitative", "title": null, "scale": {"domain": [-1.53, 114.15], "nice": false, "zero": false},
              "axis": {"orient": "bottom", "domain": true, "domainColor": "#b41e1e", "labels": false, "ticks": false, "grid": false, "title": null}},
            "y": {"field": "vol", "type": "quantitative", "title": null},
            "fill": {"condition": {"test": "datum.dir === 'u'", "value": "#000000"}, "value": "#52eeee"},
            "stroke": {"condition": {"test": "datum.dir === 'u'", "value": "#d83838"}, "value": "#52eeee"}
          }
        },
        {
          "data": {"name": "vma"},
          "mark": {"type": "line", "strokeWidth": 1, "clip": true},
          "encoding": {
            "x": {"field": "i", "type": "quantitative", "title": null},
            "y": {"field": "v", "type": "quantitative", "title": null},
            "color": {"field": "s", "type": "nominal", "legend": null, "scale": {"domain": ["MA5", "MA10"], "range": ["#ececec", "#dcc86a"]}}
          }
        },
        {"data": {"values": [{}]}, "mark": {"type": "point", "shape": "circle", "filled": true, "fill": "#b4b4b4", "opacity": 1, "size": 50, "x": 6.5, "y": 4.5}},
        {"data": {"values": [{}]}, "mark": {"type": "text", "text": "VOLUME: 108487.75", "x": 13, "y": 5, "align": "left", "baseline": "middle", "fontSize": 8.5, "fill": "#d8d8d8"}},
        {"data": {"values": [{}]}, "mark": {"type": "text", "text": "MA5: 156651.80", "x": 99, "y": 5, "align": "left", "baseline": "middle", "fontSize": 8.5, "fill": "#f0f0f0"}},
        {"data": {"values": [{}]}, "mark": {"type": "text", "text": "MA10: 152501.25", "x": 165, "y": 5, "align": "left", "baseline": "middle", "fontSize": 8.5, "fill": "#e6d87a"}}
      ]
    },
    {
      "width": 756,
      "height": 101,
      "layer": [
        {
          "data": {"name": "bars"},
          "mark": {"type": "line", "stroke": "#e8d6d6", "strokeWidth": 1, "clip": true},
          "encoding": {
            "x": {"field": "i", "type": "quantitative", "title": null, "scale": {"domain": [-1.53, 114.15], "nice": false, "zero": false},
              "axis": {"orient": "bottom", "domain": false, "labels": false, "ticks": false, "grid": false, "title": null}},
            "y": {"field": "q", "type": "quantitative", "title": null, "scale": {"domain": [-0.05, 1.2], "nice": false, "zero": false},
              "axis": {"orient": "left", "domain": true, "domainColor": "#d4d4d4", "offset": -3, "labels": false, "ticks": false, "grid": false, "title": null}}
          }
        },
        {"data": {"values": [{}]}, "mark": {"type": "point", "shape": "circle", "filled": true, "fill": "#b4b4b4", "opacity": 1, "size": 50, "x": 6.5, "y": 7.5}},
        {"data": {"values": [{}]}, "mark": {"type": "text", "text": "潜伏起爆", "x": 13, "y": 7.5, "align": "left", "baseline": "middle", "font": "Noto Sans CJK SC", "fontSize": 9.5, "fill": "#d8d8d8"}},
        {"data": {"values": [{}]}, "mark": {"type": "text", "text": "潜伏起爆: 0.00", "x": 55, "y": 7.5, "align": "left", "baseline": "middle", "font": "Noto Sans CJK SC", "fontSize": 9.5, "fill": "#e8e8e8"}},
        {
          "data": {"values": [{}]},
          "mark": {"type": "rect", "fill": "#ffffff"},
          "encoding": {"x": {"datum": 89.2, "type": "quantitative"}, "x2": {"datum": 91.8}, "y": {"datum": -0.05, "type": "quantitative"}, "y2": {"datum": 0.569}}
        },
        {
          "data": {"values": [{}]},
          "mark": {"type": "text", "text": "股", "font": "Noto Sans CJK SC", "fontWeight": "bold", "fontSize": 18, "fill": "#e82a1a", "align": "left", "baseline": "middle"},
          "encoding": {"x": {"datum": 89.5, "type": "quantitative"}, "y": {"datum": 0.41, "type": "quantitative"}}
        },
        {
          "data": {"values": [{}]},
          "mark": {"type": "text", "text": "W", "fontWeight": "bold", "fontSize": 12, "fill": "#f0a020", "align": "left", "baseline": "middle"},
          "encoding": {"x": {"datum": 89.6, "type": "quantitative"}, "y": {"datum": 0.14, "type": "quantitative"}}
        },
        {
          "data": {"values": [{}]},
          "mark": {"type": "rect", "fill": "#000000", "clip": true},
          "encoding": {"x": {"datum": 91.8, "type": "quantitative"}, "x2": {"datum": 114.15}, "y": {"datum": -0.05, "type": "quantitative"}, "y2": {"datum": 0.68}}
        },
        {
          "data": {"values": [{}]},
          "mark": {"type": "text", "text": "www.7gpzb.com", "fontWeight": "bold", "fontSize": 11.5, "fill": "#e8e8e8", "align": "left", "baseline": "middle"},
          "encoding": {"x": {"datum": 96.1, "type": "quantitative"}, "y": {"datum": 0.594, "type": "quantitative"}}
        }
      ]
    }
  ]
}
